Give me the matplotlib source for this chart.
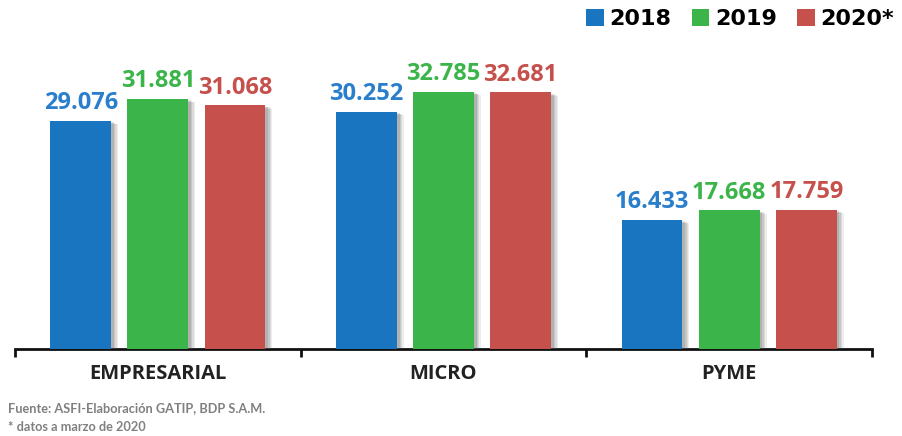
import matplotlib
matplotlib.use("Agg")
import matplotlib.pyplot as plt
import matplotlib.patheffects as pe
from matplotlib.patches import Patch
import numpy as np

categories = ["EMPRESARIAL", "MICRO", "PYME"]
series_names = ["2018", "2019", "2020*"]
values_2018 = [29.076, 30.252, 16.433]
values_2019 = [31.881, 32.785, 17.668]
values_2020 = [31.068, 32.681, 17.759]
labels_2018 = ["29.076", "30.252", "16.433"]
labels_2019 = ["31.881", "32.785", "17.668"]
labels_2020 = ["31.068", "32.681", "17.759"]

bar_colors = ["#1a75c0", "#3bb44a", "#c6504c"]
label_colors = ["#2a7fcc", "#3bb44a", "#c6504c"]

fig = plt.figure(figsize=(9.02, 4.36), dpi=100)
ax = fig.add_axes([15/902, 1-349/436, 857/902, (349-35)/436])

x = np.arange(len(categories))
width = 0.213
offsets = [-0.27, 0.0, 0.27]
all_vals = [values_2018, values_2019, values_2020]
all_labels = [labels_2018, labels_2019, labels_2020]

shadow = [pe.SimplePatchShadow(offset=(d, -d*0.5), shadow_rgbFace="#555555", alpha=a)
          for d, a in [(5, 0.10), (4, 0.12), (3, 0.15), (2, 0.18)]] + [pe.Normal()]

for i, (vals, labs) in enumerate(zip(all_vals, all_labels)):
    bars = ax.bar(x + offsets[i], vals, width, color=bar_colors[i], zorder=3)
    for b in bars:
        b.set_path_effects(shadow)
    for b, lab in zip(bars, labs):
        ax.annotate(lab, (b.get_x() + b.get_width()/2, b.get_height()),
                    xytext=(0, 4), textcoords="offset points", ha="center", va="bottom",
                    fontsize=17, fontweight="bold", color=label_colors[i],
                    family="Open Sans", zorder=4)

ax.set_xlim(-0.5, 2.5)
ax.set_ylim(0, 40)
for s in ["left", "right", "top"]:
    ax.spines[s].set_visible(False)
ax.spines["bottom"].set_linewidth(2)
ax.spines["bottom"].set_color("#111111")
ax.set_yticks([])
ax.set_xticks(x)
ax.set_xticklabels(categories, fontsize=14.5, fontweight="bold", family="Open Sans", color="#222222")
ax.tick_params(axis="x", which="major", length=0, pad=11)
ax.set_xticks([-0.5, 0.5, 1.5, 2.5], minor=True)
ax.tick_params(axis="x", which="minor", length=6, width=2, direction="out", color="#111111")

handles = [Patch(facecolor=c, edgecolor="none") for c in bar_colors]
leg = fig.legend(handles, series_names, loc="upper right", bbox_to_anchor=(1.013, 1.025),
                 ncol=3, frameon=False, handlelength=0.8, handleheight=0.8,
                 handletextpad=0.25, columnspacing=0.9,
                 prop={"family": "DejaVu Sans", "weight": "bold", "size": 16})

fig.text(8/902, 1-408/436, "Fuente: ASFI-Elaboración GATIP, BDP S.A.M.", fontsize=9.2,
         fontweight="bold", color="#808080", family="Lato", va="center")
fig.text(8/902, 1-427/436, "* datos a marzo de 2020", fontsize=9.2,
         fontweight="bold", color="#808080", family="Lato", va="center")

fig.savefig("out.png", dpi=100)
